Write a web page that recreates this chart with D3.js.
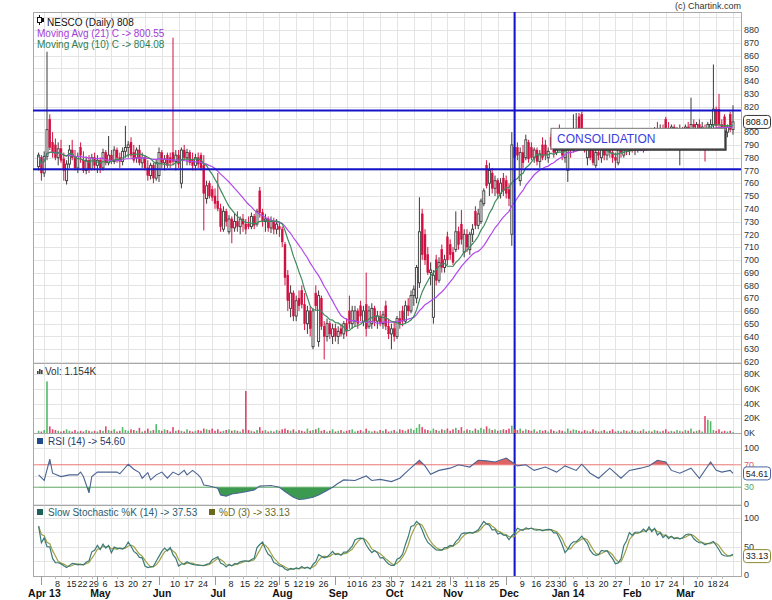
<!DOCTYPE html>
<html><head><meta charset="utf-8">
<script src="https://cdn.jsdelivr.net/npm/d3@7"></script>
<style>
body{margin:0;background:#fff}
svg{display:block}
text{font-family:"Liberation Sans",Arial,sans-serif}
</style></head>
<body><svg id="c" width="772" height="600"></svg>
<script>
// ---------------- DATA ----------------
const tradingDays = [
 ["2013-03",[28]],
 ["2013-04",[1,2,3,4,5,8,9,10,11,12,15,16,17,18,22,23,25,26,29,30]],
 ["2013-05",[2,3,6,7,8,9,10,13,14,15,16,17,20,21,22,23,24,27,28,29,30,31]],
 ["2013-06",[3,4,5,6,7,10,11,12,13,14,17,18,19,20,21,24,25,26,27,28]],
 ["2013-07",[1,2,3,4,5,8,9,10,11,12,15,16,17,18,19,22,23,24,25,26,29,30,31]],
 ["2013-08",[1,2,5,6,7,8,12,13,14,16,19,20,21,22,23,26,27,28,29,30]],
 ["2013-09",[2,3,4,5,6,10,11,12,13,16,17,18,19,20,23,24,25,26,27,30]],
 ["2013-10",[1,3,4,7,8,9,10,11,14,15,17,18,21,22,23,24,25,28,29,30,31]],
 ["2013-11",[1,3,5,6,7,8,11,12,13,14,18,19,20,21,22,25,26,27,28,29]],
 ["2013-12",[2,3,4,5,6,9,10,11,12,13,16,17,18,19,20,23,24,26,27,30,31]],
 ["2014-01",[1,2,3,6,7,8,9,10,13,14,15,16,17,20,21,22,23,24,27,28,29,30,31]],
 ["2014-02",[3,4,5,6,7,10,11,12,13,14,17,18,19,20,21,24,25,26,28]],
 ["2014-03",[3,4,5,6,7,10,11,12,13,14,18,19,20,21,24,25,26,27,28]]
];
const opens = [
773,780,768,781,810,792,790,780,787,779,
762,775,786,781,772,788,778,770,778,771,
780,774,778,772,784,776,782,777,786,780,
777,785,788,792,784,780,786,776,780,772,
766,774,764,766,784,776,782,780,784,777,
782,760,786,780,784,778,774,780,782,774,
748,760,755,750,746,740,724,738,722,732,
725,730,726,732,728,728,726,734,728,754,
737,730,732,725,730,724,726,724,712,688,
662,674,656,670,676,665,650,660,632,674,
636,670,648,640,650,640,646,640,646,642,
650,660,650,652,660,664,652,665,648,650,
662,652,656,650,664,648,642,646,640,654,
660,652,664,660,672,670,682,736,720,704,
690,655,700,684,708,694,718,712,706,708,
722,728,706,720,708,720,738,727,730,744,
774,760,768,756,762,752,764,762,755,720,
788,788,762,784,780,792,788,780,786,777,
790,790,780,796,789,784,800,788,780,770,
788,786,788,812,814,800,780,790,786,774,
784,780,788,782,790,784,780,776,786,782,
790,786,792,786,790,792,788,794,788,796,
792,800,796,802,810,803,798,804,800,790,
800,798,804,802,806,802,806,802,802,800,
800,806,818,818,806,812,800,814,802];
const highs = [
784,782,785,863,814,800,795,792,794,784,
778,790,794,786,784,792,785,781,782,783,
784,782,780,787,786,797,786,789,788,784,
788,805,793,796,790,788,790,784,782,778,
776,776,779,788,786,782,784,784,874,786,
786,788,790,787,786,784,783,784,784,782,
762,762,758,756,768,744,742,740,735,734,
736,738,734,736,732,734,737,736,740,757,
740,736,734,734,733,732,730,726,714,692,
680,676,672,676,680,674,664,663,662,680,
676,672,652,654,652,650,650,648,650,652,
654,672,664,664,662,668,664,690,664,666,
664,660,660,660,668,654,650,652,656,660,
664,668,670,676,680,696,749,740,724,710,
698,692,704,702,712,704,722,716,710,738,
726,739,724,724,722,728,742,740,748,756,
778,776,772,766,764,764,768,766,760,800,
792,792,788,790,798,794,792,788,788,786,
796,794,788,799,792,795,806,792,790,796,
792,814,815,815,816,802,790,792,788,786,
790,790,792,792,794,790,784,788,792,794,
796,796,796,794,796,796,796,798,798,802,
804,808,806,806,812,808,806,806,804,806,
804,806,808,827,810,808,810,808,806,808,
810,853,820,830,810,814,806,816,821];
const lows = [
770,762,765,778,786,780,778,774,776,762,
759,772,778,770,768,776,768,767,768,770,
770,768,768,770,774,774,775,775,776,772,
774,780,780,780,776,776,774,772,770,762,
763,760,762,761,772,770,772,772,774,770,
772,756,778,774,774,770,770,772,770,723,
744,748,746,740,738,722,722,726,720,713,
722,722,720,722,720,724,724,724,726,733,
726,722,722,721,720,720,718,710,680,660,
655,652,652,660,662,645,642,640,630,660,
632,645,622,636,638,634,636,634,640,638,
640,646,646,648,646,652,648,640,646,646,
648,646,648,646,645,638,630,636,638,646,
648,650,656,658,664,666,678,700,696,688,
680,650,680,682,690,690,696,700,696,706,
708,712,702,706,704,714,724,724,728,742,
756,750,752,750,748,748,750,748,742,711,
776,778,758,772,778,776,778,776,774,772,
778,778,776,786,780,782,786,778,776,761,
780,784,786,796,796,784,774,778,774,772,
778,776,778,778,780,776,772,774,780,780,
782,782,784,782,784,786,784,786,786,788,
790,794,792,794,800,796,794,796,794,774,
794,796,798,800,800,798,800,798,777,798,
798,803,803,802,796,800,796,800,798];
const closes = [
782,768,781,802,788,784,780,787,778,770,
775,786,780,772,781,782,770,778,771,780,
774,778,772,784,776,782,777,786,780,777,
785,788,790,782,778,786,776,780,772,766,
774,764,776,784,776,779,774,776,777,782,
775,786,780,784,776,774,780,775,772,752,
758,750,749,744,740,726,738,730,732,725,
730,726,732,728,724,726,734,727,738,737,
730,732,725,730,724,728,724,714,686,668,
674,656,668,664,665,650,660,646,660,664,
672,648,640,650,642,646,640,644,642,650,
644,650,660,660,650,656,660,646,660,662,
652,656,650,657,648,642,646,640,654,650,
652,664,660,672,677,694,722,704,700,690,
692,688,684,698,694,700,700,704,698,722,
712,716,720,710,720,724,727,736,746,754,
758,770,756,762,752,760,754,752,748,790,
780,782,784,776,794,779,780,786,777,783,
780,782,785,789,784,792,788,782,786,790,
786,790,796,798,800,786,788,780,776,784,
782,788,782,790,784,780,778,786,784,790,
786,792,788,790,792,788,794,790,796,792,
800,796,802,798,803,800,804,800,802,800,
798,804,802,806,804,806,802,804,800,806,
806,818,805,806,800,802,804,802,808];
const volumesK = [
3,2,4,70,9,5,4,3,2,3,
5,3,2,4,2,3,2,4,3,2,
3,2,4,3,9,4,3,5,2,3,
8,4,3,5,4,3,7,2,3,6,
3,4,12,4,3,5,4,2,8,3,
4,3,2,5,3,2,3,4,3,6,
5,4,6,3,5,2,3,4,5,3,
4,3,2,5,57,4,3,2,4,8,
3,4,2,3,2,4,3,5,6,4,
3,5,2,4,3,2,6,3,4,5,
7,3,4,2,3,5,2,3,4,2,
3,4,5,2,3,4,2,6,3,2,
3,2,4,3,5,2,3,4,2,5,
4,3,5,6,4,7,12,8,5,4,
3,6,4,3,5,4,6,3,5,7,
4,8,3,5,4,3,6,4,7,5,
9,6,4,5,3,4,5,4,6,10,
5,4,6,3,5,4,3,5,2,4,
3,4,2,5,3,2,4,3,2,6,
3,5,4,3,2,4,3,2,5,3,
2,3,4,2,3,5,2,3,2,4,
3,2,4,3,2,3,5,2,3,2,
4,3,2,3,5,2,3,2,4,3,
2,4,3,6,2,3,4,2,23,18,
16,4,3,5,2,3,2,3,1.154];
// RSI(14): [trading-day index, value]
const rsiPoints = [
[0,52],[2,42],[4,80],[5,55],[8,49],[11,52],[14,52],[15,57],[16,49],[18,20],[19,49],[21,57],
[25,57],[28,57],[29,54],[32,71],[34,62],[36,56],[37,46],[39,56],[40,43],[42,52],[44,57],[46,46],
[48,57],[50,52],[52,60],[53,52],[55,60],[57,52],[58,46],[59,34],[61,32],[64,28],[65,16],[67,14],
[69,18],[72,20],[74,22],[77,25],[79,32],[83,33],[86,30],[88,22],[91,12],[93,8],[95,9],[98,12],
[100,16],[103,24],[105,30],[107,37],[109,43],[113,42],[117,50],[119,42],[122,44],[126,40],[129,46],
[132,60],[136,78],[138,68],[140,53],[143,60],[147,64],[150,70],[154,66],[157,78],[160,77],[163,75],
[167,82],[169,75],[171,68],[174,70],[177,60],[181,66],[185,57],[188,68],[192,60],[194,71],[197,55],
[200,46],[204,64],[208,46],[211,60],[215,64],[218,68],[221,78],[224,75],[226,60],[229,55],[233,64],
[236,46],[240,75],[242,60],[244,57],[247,60],[248,54.6]];
const priceTicks = d3.range(620, 881, 10);
const volTicks = [0,20,40,60,80];
const stochTicks = [0,50,100];
const monthNames = ["Jan","Feb","Mar","Apr","May","Jun","Jul","Aug","Sep","Oct","Nov","Dec"];
const levelLines = [817, 771];
const markerDate = "2013-12-05";
const consolidation = {text:"CONSOLIDATION", from:"2013-12-24", to:"2014-03-25", top:803, bottom:787};
const titleText = "NESCO (Daily) 808";
const ma21Text = "Moving Avg (21) C -> 800.55";
const ma10Text = "Moving Avg (10) C -> 804.08";
const volText = "Vol: 1.154K";
const rsiText = "RSI (14) -> 54.60", rsiLast = 54.61;
const stochKText = "Slow Stochastic %K (14) -> 37.53", stochDText = "%D (3) -> 33.13", stochLast = 33.13;

// ---------------- SETUP ----------------
const dates = [];
tradingDays.forEach(([ym, days]) => { const [yy, mm] = ym.split("-").map(Number); days.forEach(d => dates.push(new Date(yy, mm - 1, d))); });
const n = closes.length;
const fmtKey = d3.timeFormat("%Y-%m-%d");
const idxOf = s => dates.findIndex(d => fmtKey(d) === s);

const svg = d3.select("#c");
const L = 33, R = 741;
const P = {main:[12,363], vol:[363,433], rsi:[433,505], sto:[505,576]};
const x = d3.scaleLinear().domain([-2, n + 1.857]).range([L, R]);
const yP = d3.scaleLinear().domain([620, 880]).range([362, 30]);
const yV = d3.scaleLinear().domain([0, 80]).range([433, 374]);
const yR = d3.scaleLinear().domain([0, 100]).range([504, 448]);
const yS = d3.scaleLinear().domain([0, 100]).range([575, 518]);

// indicators computed from the price arrays
const sma = (arr, k) => arr.map((_, i) => d3.mean(arr.slice(Math.max(0, i - k + 1), i + 1)));
const ma21 = sma(closes, 21), ma10 = sma(closes, 10);
const fastK = closes.map((c, i) => { const s = Math.max(0, i - 13); const hh = d3.max(highs.slice(s, i + 1)), ll = d3.min(lows.slice(s, i + 1)); return hh === ll ? 50 : (c - ll) / (hh - ll) * 100; });
const slowK = sma(fastK, 3), pctD = sma(slowK, 3);

// clips
const defs = svg.append("defs");
Object.entries(P).forEach(([k, [t, b]]) => defs.append("clipPath").attr("id", "clip-" + k).append("rect").attr("x", L).attr("y", t).attr("width", R - L).attr("height", b - t));
defs.append("clipPath").attr("id", "clip-hi").append("rect").attr("x", L).attr("y", P.rsi[0]).attr("width", R - L).attr("height", yR(70) - P.rsi[0]);
defs.append("clipPath").attr("id", "clip-lo").append("rect").attr("x", L).attr("y", yR(30)).attr("width", R - L).attr("height", P.rsi[1] - yR(30));

// grids
const grid = svg.append("g").attr("stroke", "#e4e4e4").attr("stroke-width", 1).attr("shape-rendering", "crispEdges");
const vIdx = d3.range(2, n, 6);
Object.values(P).forEach(([t, b]) => {
  vIdx.forEach(i => grid.append("line").attr("x1", Math.round(x(i)) + .5).attr("x2", Math.round(x(i)) + .5).attr("y1", t).attr("y2", b));
});
d3.range(620, 891, 10).forEach(v => grid.append("line").attr("x1", L).attr("x2", R).attr("y1", Math.round(yP(v)) + .5).attr("y2", Math.round(yP(v)) + .5));
volTicks.forEach(v => grid.append("line").attr("x1", L).attr("x2", R).attr("y1", Math.round(yV(v)) + .5).attr("y2", Math.round(yV(v)) + .5));
[100, 50, 0].forEach(v => grid.append("line").attr("x1", L).attr("x2", R).attr("y1", Math.round(yR(v)) + .5).attr("y2", Math.round(yR(v)) + .5));
[100, 75, 50, 25].forEach(v => grid.append("line").attr("x1", L).attr("x2", R).attr("y1", Math.round(yS(v)) + .5).attr("y2", Math.round(yS(v)) + .5));

// panel borders
Object.values(P).forEach(([t, b]) => svg.append("rect").attr("x", L + .5).attr("y", t + .5).attr("width", R - L).attr("height", b - t).attr("fill", "none").attr("stroke", "#a8a8a8").attr("shape-rendering", "crispEdges"));

// ---------------- MAIN PANEL ----------------
const gm = svg.append("g").attr("clip-path", "url(#clip-main)");
const up = i => closes[i] >= opens[i];
d3.range(n).forEach(i => {
  const cx = x(i), col = up(i) ? "#3a3a3a" : "#d21040";
  gm.append("line").attr("x1", cx).attr("x2", cx).attr("y1", yP(highs[i])).attr("y2", yP(lows[i])).attr("stroke", col).attr("stroke-width", 1);
  const yt = yP(Math.max(opens[i], closes[i])), yb = yP(Math.min(opens[i], closes[i]));
  gm.append("rect").attr("x", cx - 1).attr("y", yt).attr("width", 2).attr("height", Math.max(1, yb - yt))
    .attr("fill", up(i) ? "#ffffff" : "#d21040").attr("stroke", col).attr("stroke-width", up(i) ? 0.9 : 0.4);
});
const lineP = arr => d3.line().x((d, i) => x(i)).y(d => yP(d))(arr);
gm.append("path").attr("d", lineP(ma21)).attr("fill", "none").attr("stroke", "#b048ee").attr("stroke-width", 1.2);
gm.append("path").attr("d", lineP(ma10)).attr("fill", "none").attr("stroke", "#3d8a5c").attr("stroke-width", 1.2);

// level lines
levelLines.forEach(v => svg.append("line").attr("x1", L).attr("x2", R).attr("y1", yP(v)).attr("y2", yP(v)).attr("stroke", "#1414c8").attr("stroke-width", 2));
const mx = x(idxOf(markerDate));
svg.append("line").attr("x1", mx).attr("x2", mx).attr("y1", P.main[0]).attr("y2", P.sto[1]).attr("stroke", "#1414c8").attr("stroke-width", 2);

// consolidation box
const bx0 = x(idxOf(consolidation.from)), bx1 = x(idxOf(consolidation.to));
const by0 = yP(consolidation.top), by1 = yP(consolidation.bottom);
svg.append("rect").attr("x", bx0 + 2).attr("y", by0 + 2).attr("width", bx1 - bx0).attr("height", by1 - by0).attr("fill", "#333");
svg.append("rect").attr("x", bx0).attr("y", by0).attr("width", bx1 - bx0).attr("height", by1 - by0).attr("fill", "#fff").attr("stroke", "#777").attr("stroke-width", 1);
svg.append("text").attr("x", bx0 + 6).attr("y", (by0 + by1) / 2 + 4.5).attr("font-size", 12).attr("fill", "#3c3cdc").text(consolidation.text);

// legend
const lg = svg.append("g");
lg.append("line").attr("x1", 39.5).attr("x2", 39.5).attr("y1", 15).attr("y2", 25).attr("stroke", "#111");
lg.append("rect").attr("x", 37.5).attr("y", 17.5).attr("width", 4).attr("height", 5).attr("fill", "#fff").attr("stroke", "#111");
lg.append("rect").attr("x", 42).attr("y", 18).attr("width", 2).attr("height", 4).attr("fill", "#111");
lg.append("text").attr("x", 47).attr("y", 25.5).attr("font-size", 10).attr("fill", "#111").text(titleText);
lg.append("text").attr("x", 37).attr("y", 36.5).attr("font-size", 10).attr("fill", "#a43ad8").text(ma21Text);
lg.append("text").attr("x", 37).attr("y", 47.5).attr("font-size", 10).attr("fill", "#2f7d4f").text(ma10Text);
svg.append("text").attr("x", 741).attr("y", 9).attr("text-anchor", "end").attr("font-size", 9).attr("fill", "#333").text("(c) Chartink.com");

// price axis labels
const ax = svg.append("g").attr("font-size", 9).attr("fill", "#333");
priceTicks.forEach(v => ax.append("text").attr("x", 744).attr("y", yP(v) + 3.2).text(v));
const lp = closes[n - 1];
svg.append("rect").attr("x", 743.5).attr("y", yP(lp) - 6.5).attr("width", 27).attr("height", 13).attr("rx", 3).attr("fill", "#fff").attr("stroke", "#333");
svg.append("text").attr("x", 757).attr("y", yP(lp) + 3.2).attr("text-anchor", "middle").attr("font-size", 9).attr("fill", "#111").text(lp.toFixed(1));

// ---------------- VOLUME ----------------
const gv = svg.append("g").attr("clip-path", "url(#clip-vol)");
d3.range(n).forEach(i => {
  gv.append("rect").attr("x", x(i) - 0.8).attr("y", yV(volumesK[i])).attr("width", 1.6).attr("height", yV(0) - yV(volumesK[i]))
    .attr("fill", up(i) ? "#52bb66" : "#e2476e");
});
volTicks.forEach(v => ax.append("text").attr("x", 744).attr("y", yV(v) + 3.2).text(v + "K"));
const vi = svg.append("g").attr("fill", "#444");
[[37, 3], [39, 5], [41, 4]].forEach(([bx, h]) => vi.append("rect").attr("x", bx).attr("y", 374 - h).attr("width", 1.6).attr("height", h));
svg.append("text").attr("x", 45).attr("y", 374.5).attr("font-size", 10).attr("fill", "#333").text(volText);

// ---------------- RSI ----------------
const gr = svg.append("g").attr("clip-path", "url(#clip-rsi)");
gr.append("line").attr("x1", L).attr("x2", R).attr("y1", yR(70)).attr("y2", yR(70)).attr("stroke", "#ee8080");
gr.append("line").attr("x1", L).attr("x2", R).attr("y1", yR(30)).attr("y2", yR(30)).attr("stroke", "#6fae6f");
gr.append("path").attr("clip-path", "url(#clip-hi)").attr("d", d3.area().x(d => x(d[0])).y0(yR(70)).y1(d => yR(d[1]))(rsiPoints)).attr("fill", "#e06464");
gr.append("path").attr("clip-path", "url(#clip-lo)").attr("d", d3.area().x(d => x(d[0])).y0(yR(30)).y1(d => yR(d[1]))(rsiPoints)).attr("fill", "#3c9a50");
gr.append("path").attr("d", d3.line().x(d => x(d[0])).y(d => yR(d[1]))(rsiPoints)).attr("fill", "none").attr("stroke", "#4a6494").attr("stroke-width", 1.1);
[[100, "#333"], [70, "#e06060"], [30, "#5aa55a"], [0, "#333"]].forEach(([v, c]) => svg.append("text").attr("x", 744).attr("y", yR(v) + 3.2).attr("font-size", 9).attr("fill", c).text(v));
svg.append("rect").attr("x", 743.5).attr("y", yR(rsiLast) - 6.5).attr("width", 27).attr("height", 13).attr("rx", 3).attr("fill", "#fff").attr("stroke", "#4a64a4");
svg.append("text").attr("x", 757).attr("y", yR(rsiLast) + 3.2).attr("text-anchor", "middle").attr("font-size", 9).attr("fill", "#222").text(rsiLast.toFixed(2));
svg.append("rect").attr("x", 37).attr("y", 438).attr("width", 6).attr("height", 6).attr("fill", "#1f4b8a");
svg.append("text").attr("x", 48).attr("y", 445).attr("font-size", 10).attr("fill", "#2a3a6a").text(rsiText);

// ---------------- STOCHASTIC ----------------
const gs = svg.append("g").attr("clip-path", "url(#clip-sto)");
gs.append("path").attr("d", d3.line().x((d, i) => x(i)).y(d => yS(d))(pctD)).attr("fill", "none").attr("stroke", "#a0a048").attr("stroke-width", 1.2);
gs.append("path").attr("d", d3.line().x((d, i) => x(i)).y(d => yS(d))(slowK)).attr("fill", "none").attr("stroke", "#3a7a78").attr("stroke-width", 1.2);
stochTicks.forEach(v => svg.append("text").attr("x", 744).attr("y", yS(v) + 3.2).attr("font-size", 9).attr("fill", "#333").text(v));
svg.append("rect").attr("x", 743.5).attr("y", yS(stochLast) - 6.5).attr("width", 27).attr("height", 13).attr("rx", 3).attr("fill", "#fff").attr("stroke", "#8a8a30");
svg.append("text").attr("x", 757).attr("y", yS(stochLast) + 3.2).attr("text-anchor", "middle").attr("font-size", 9).attr("fill", "#222").text(stochLast.toFixed(2));
svg.append("rect").attr("x", 37).attr("y", 509).attr("width", 6).attr("height", 6).attr("fill", "#1d5f5a");
svg.append("text").attr("x", 48).attr("y", 516).attr("font-size", 10).attr("fill", "#2a6070").text(stochKText);
svg.append("rect").attr("x", 209).attr("y", 509).attr("width", 6).attr("height", 6).attr("fill", "#6a6a1a");
svg.append("text").attr("x", 219).attr("y", 516).attr("font-size", 10).attr("fill", "#6a6a2a").text(stochDText);

// ---------------- X AXIS ----------------
const xa = svg.append("g");
const weekKey = d => fmtKey(d3.timeWeek.floor(d));
for (let i = 1; i < n; i++) {
  const d = dates[i], p = dates[i - 1];
  const monthFirst = d.getMonth() !== p.getMonth();
  const weekFirst = weekKey(d) !== weekKey(p);
  const xi = x(i);
  if (monthFirst) {
    xa.append("line").attr("x1", Math.round(xi) + .5).attr("x2", Math.round(xi) + .5).attr("y1", P.sto[1]).attr("y2", 585).attr("stroke", "#999").attr("shape-rendering", "crispEdges");
    const lab = monthNames[d.getMonth()] + ((d.getMonth() === 3 && d.getFullYear() === 2013) || d.getMonth() === 0 ? " " + String(d.getFullYear()).slice(2) : "");
    xa.append("text").attr("x", xi + 3).attr("y", 597).attr("text-anchor", "middle").attr("font-size", 10.5).attr("font-weight", "bold").attr("fill", "#111").text(lab);
  } else if (weekFirst) {
    xa.append("line").attr("x1", Math.round(xi) + .5).attr("x2", Math.round(xi) + .5).attr("y1", P.sto[1]).attr("y2", 579).attr("stroke", "#bbb").attr("shape-rendering", "crispEdges");
    xa.append("text").attr("x", xi + 2).attr("y", 587).attr("text-anchor", "middle").attr("font-size", 9).attr("fill", "#222").text(d.getDate());
  }
}
</script></body></html>
